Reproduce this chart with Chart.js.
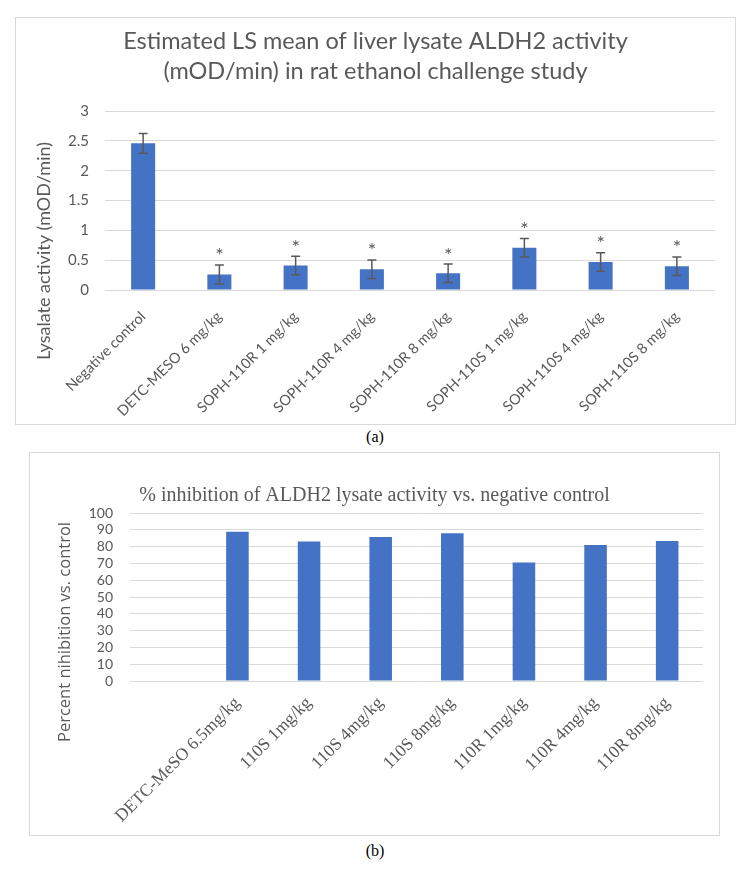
<!DOCTYPE html>
<html>
<head>
<meta charset="utf-8">
<script src="https://cdn.jsdelivr.net/npm/chart.js@4.4.1/dist/chart.umd.min.js"></script>
<style>
    body { margin: 0; background: #fff; width: 750px; height: 872px; position: relative; overflow: hidden; }
    .box { position: absolute; border: 1px solid #d9d9d9; background: #fff; }
    #boxA { left: 15px; top: 17px; width: 719px; height: 406px; }
    #boxB { left: 29px; top: 452px; width: 689px; height: 382px; }
    .cap { position: absolute; left: 0; width: 750px; text-align: center; font: 16px "Liberation Serif"; color: #000; }
</style>
</head>
<body>
<div class="box" id="boxA"><canvas id="chartA" width="719" height="406"></canvas></div>
<div class="cap" style="top:428px">(a)</div>
<div class="box" id="boxB"><canvas id="chartB" width="689" height="382"></canvas></div>
<div class="cap" style="top:842px">(b)</div>
<script>
// (a) liver lysate activity
const groupsA = ['Negative control', 'DETC-MESO 6 mg/kg', 'SOPH-110R 1 mg/kg', 'SOPH-110R 4 mg/kg',
                 'SOPH-110R 8 mg/kg', 'SOPH-110S 1 mg/kg', 'SOPH-110S 4 mg/kg', 'SOPH-110S 8 mg/kg'];
const activityA = [2.46, 0.26, 0.41, 0.35, 0.28, 0.71, 0.47, 0.40];
const errorA    = [0.165, 0.16, 0.155, 0.155, 0.155, 0.155, 0.155, 0.155];
const starsA    = ['', '*', '*', '*', '*', '*', '*', '*'];
const ticksA    = [0, 0.5, 1, 1.5, 2, 2.5, 3];

// (b) percent inhibition
const groupsB = ['', 'DETC-MeSO 6.5mg/kg', '110S 1mg/kg', '110S 4mg/kg', '110S 8mg/kg',
                 '110R 1mg/kg', '110R 4mg/kg', '110R 8mg/kg'];
const inhibitionB = [null, 88.8, 83.0, 85.7, 88.0, 70.6, 81.0, 83.4];
const ticksB = [0, 10, 20, 30, 40, 50, 60, 70, 80, 90, 100];

const grey = '#595959';
const barBlue = '#4472C4';

const errorBars = 
{
    id: 'errorBars',
    afterDatasetsDraw(chart, args, opts) 
    {
        if (!opts.errors) return;
        const ctx = chart.ctx;
        const y = chart.scales.y;
        const meta = chart.getDatasetMeta(0);
        const vals = chart.data.datasets[0].data;
        ctx.save();
        ctx.strokeStyle = grey;
        ctx.lineWidth = 1.5;
        ctx.fillStyle = grey;
        ctx.font = '20px Lato';
        ctx.textAlign = 'center';
        ctx.textBaseline = 'middle';
        meta.data.forEach((bar, i) => 
        {
            const hi = y.getPixelForValue(vals[i] + opts.errors[i]);
            const lo = y.getPixelForValue(vals[i] - opts.errors[i]);
            ctx.beginPath();
            ctx.moveTo(bar.x, hi); ctx.lineTo(bar.x, lo);
            ctx.moveTo(bar.x - 4.5, hi); ctx.lineTo(bar.x + 4.5, hi);
            ctx.moveTo(bar.x - 4.5, lo); ctx.lineTo(bar.x + 4.5, lo);
            ctx.stroke();
            if (opts.stars[i]) ctx.fillText(opts.stars[i], bar.x, hi - 9);
        });
        ctx.restore();
    }
};

const sideTitle = 
{
    id: 'sideTitle',
    afterDraw(chart, args, opts) 
    {
        if (!opts.text) return;
        const ctx = chart.ctx;
        ctx.save();
        ctx.translate(opts.x, opts.y);
        ctx.rotate(-Math.PI / 2);
        ctx.font = opts.font;
        ctx.fillStyle = grey;
        ctx.textAlign = 'center';
        ctx.textBaseline = 'middle';
        ctx.fillText(opts.text, 0, 0);
        ctx.restore();
    }
};

new Chart(document.getElementById('chartA').getContext('2d'), {
    type: 'bar',
    data: 
    {
        labels: groupsA,
        datasets: 
        [{
            data: activityA,
            backgroundColor: barBlue,
            categoryPercentage: 1,
            barPercentage: 0.315
        }]
    },
    options: 
    {
        responsive: false,
        animation: false,
        layout: { padding: { left: 20, right: 20 } },
        plugins: 
        {
            legend: { display: false },
            tooltip: { enabled: false },
            title: 
            {
                display: true,
                text: ['Estimated LS mean of liver lysate ALDH2 activity', '(mOD/min) in rat ethanol challenge study'],
                color: grey,
                font: { family: 'Lato', size: 23.5, weight: 'normal', lineHeight: 1.28 },
                padding: { top: 8, bottom: 25 }
            },
            errorBars: { errors: errorA, stars: starsA },
            sideTitle: { text: 'Lysalate activity (mOD/min)', x: 28, y: 233, font: '18px Lato' }
        },
        scales: 
        {
            x: 
            {
                grid: { display: false },
                border: { display: false },
                ticks: { color: grey, font: { family: 'Lato', size: 14.5 }, minRotation: 45, maxRotation: 45, autoSkip: false, padding: 10 },
                afterFit: function(scale) { scale.height = 134; }
            },
            y: 
            {
                min: 0, max: 3,
                afterBuildTicks: function(scale) { scale.ticks = ticksA.map(v => ({ value: v })); },
                grid: { color: '#d9d9d9', drawTicks: false },
                border: { display: false },
                ticks: { color: grey, font: { family: 'Lato', size: 15 }, padding: 16, autoSkip: false, callback: v => String(v) },
                afterFit: function(scale) { scale.width = 69; }
            }
        }
    },
    plugins: [errorBars, sideTitle]
});

new Chart(document.getElementById('chartB').getContext('2d'), {
    type: 'bar',
    data: 
    {
        labels: groupsB,
        datasets: 
        [{
            data: inhibitionB,
            backgroundColor: barBlue,
            categoryPercentage: 1,
            barPercentage: 0.315
        }]
    },
    options: 
    {
        responsive: false,
        animation: false,
        layout: { padding: { left: 16, right: 16 } },
        plugins: 
        {
            legend: { display: false },
            tooltip: { enabled: false },
            title: 
            {
                display: true,
                text: '% inhibition of ALDH2 lysate activity vs. negative control',
                color: grey,
                font: { family: 'Liberation Serif', size: 20, weight: 'normal', lineHeight: 1.2 },
                padding: { top: 31, bottom: 5 }
            },
            sideTitle: { text: 'Percent nihibition vs. control', x: 35, y: 179, font: '16.5px "Open Sans"' }
        },
        scales: 
        {
            x: 
            {
                grid: { display: false },
                border: { display: false },
                ticks: { color: grey, font: { family: 'Liberation Serif', size: 17.5 }, minRotation: 45, maxRotation: 45, autoSkip: false, padding: 4 },
                afterFit: function(scale) { scale.height = 154; }
            },
            y: 
            {
                min: 0, max: 100,
                afterBuildTicks: function(scale) { scale.ticks = ticksB.map(v => ({ value: v })); },
                grid: { color: '#d9d9d9', drawTicks: false },
                border: { display: false },
                ticks: { color: grey, font: { family: 'Lato', size: 14 }, padding: 17, autoSkip: false, callback: v => String(v) },
                afterFit: function(scale) { scale.width = 84; }
            }
        }
    },
    plugins: [sideTitle]
});
</script>
</body>
</html>
